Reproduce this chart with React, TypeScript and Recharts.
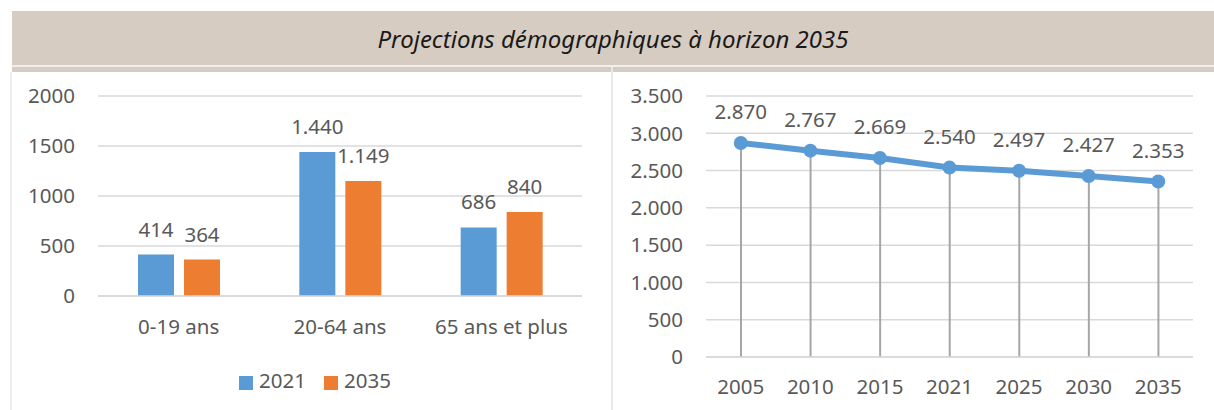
import {
  BarChart,
  Bar,
  ComposedChart,
  Line,
  XAxis,
  YAxis,
  CartesianGrid,
  Legend,
  LabelList,
} from "recharts";

const AGE_GROUPS = ["0-19 ans", "20-64 ans", "65 ans et plus"];
const POP_2021 = [414, 1440, 686];
const POP_2035 = [364, 1149, 840];
const BAR_TICKS = [0, 500, 1000, 1500, 2000];

const YEARS = ["2005", "2010", "2015", "2021", "2025", "2030", "2035"];
const TOTAL_POP = [2870, 2767, 2669, 2540, 2497, 2427, 2353];
const LINE_TICKS = [0, 500, 1000, 1500, 2000, 2500, 3000, 3500];

const BLUE = "#5B9BD5";
const ORANGE = "#ED7D31";
const TEXT = "#595959";
const GRID = "#D9D9D9";
const FONT = "'Noto Sans', sans-serif";
const FS = 20.5;

// 1440 -> "1.440"
const fmt = (v: number) => String(v).replace(/\B(?=(\d{3})+(?!\d))/g, ".");

const barData = AGE_GROUPS.map((g, i) => ({ group: g, y2021: POP_2021[i], y2035: POP_2035[i] }));
const lineData = YEARS.map((y, i) => ({ year: y, pop: TOTAL_POP[i] }));

const tickStyle = { fill: TEXT, fontSize: FS, fontFamily: FONT };
const labelStyle = { fill: TEXT, fontSize: FS, fontFamily: FONT };

function AgeChart() {
  return (
    <BarChart
      width={610}
      height={410}
      data={barData}
      margin={{ top: 96, right: 28, bottom: 84, left: 0 }}
      barSize={36}
      barGap={10}
    >
      <CartesianGrid vertical={false} stroke={GRID} strokeWidth={1.5} />
      <XAxis
        dataKey="group"
        tick={tickStyle}
        tickLine={false}
        axisLine={{ stroke: GRID, strokeWidth: 1.5 }}
        tickSize={6}
        tickMargin={17}
        height={30}
      />
      <YAxis
        domain={[0, 2000]}
        ticks={BAR_TICKS}
        tick={tickStyle}
        tickLine={false}
        axisLine={false}
        tickSize={6}
        tickMargin={17}
        width={98}
        interval={0}
      />
      <Legend
        layout="horizontal"
        verticalAlign="middle"
        align="center"
        iconType="square"
        iconSize={14}
        wrapperStyle={{ top: 366, left: 19, width: 610, fontFamily: FONT, fontSize: FS }}
        formatter={(value) => <span style={{ color: TEXT, marginLeft: 2, marginRight: 8 }}>{value}</span>}
      />
      <Bar dataKey="y2021" name="2021" fill={BLUE} isAnimationActive={false}>
        <LabelList dataKey="y2021" position="top" offset={18} formatter={(v: any) => fmt(Number(v))} style={labelStyle} />
      </Bar>
      <Bar dataKey="y2035" name="2035" fill={ORANGE} isAnimationActive={false}>
        <LabelList dataKey="y2035" position="top" offset={18} formatter={(v: any) => fmt(Number(v))} style={labelStyle} />
      </Bar>
    </BarChart>
  );
}

function TrendChart() {
  return (
    <ComposedChart
      width={614}
      height={410}
      data={lineData}
      margin={{ top: 96, right: 21, bottom: 23, left: 0 }}
      barSize={2}
    >
      <CartesianGrid vertical={false} stroke={GRID} strokeWidth={1.5} />
      <XAxis
        dataKey="year"
        tick={tickStyle}
        tickLine={false}
        axisLine={{ stroke: GRID, strokeWidth: 1.5 }}
        tickSize={6}
        tickMargin={16}
        height={30}
        interval={0}
      />
      <YAxis
        domain={[0, 3500]}
        ticks={LINE_TICKS}
        tickFormatter={fmt}
        tick={tickStyle}
        tickLine={false}
        axisLine={false}
        tickSize={6}
        tickMargin={17}
        width={106}
        interval={0}
      />
      {/* drop lines from each point to the axis */}
      <Bar dataKey="pop" fill="#A6A6A6" isAnimationActive={false} />
      <Line
        dataKey="pop"
        stroke={BLUE}
        strokeWidth={6}
        dot={{ r: 7, fill: BLUE, stroke: BLUE, strokeWidth: 0 }}
        isAnimationActive={false}
      >
        <LabelList dataKey="pop" position="top" offset={24} formatter={(v: any) => fmt(Number(v))} style={labelStyle} />
      </Line>
    </ComposedChart>
  );
}

export default function App() {
  return (
    <div style={{ position: "fixed", left: 0, top: 0, width: 1214, height: 410, background: "#fff", fontFamily: FONT }}>
      <div
        style={{
          position: "absolute",
          left: 12,
          top: 11,
          width: 1202,
          height: 54,
          background: "#D6CCC2",
          display: "flex",
          alignItems: "center",
          justifyContent: "center",
          fontStyle: "italic",
          fontSize: 24,
          color: "#1a1a1a",
        }}
      >
        Projections démographiques à horizon 2035
      </div>
      <div style={{ position: "absolute", left: 12, top: 65, width: 1202, height: 2, background: "#EFEFEF" }} />
      <div style={{ position: "absolute", left: 12, top: 67, width: 1202, height: 5, background: "#D6CCC2" }} />
      <div style={{ position: "absolute", left: 10, top: 72, width: 2, height: 338, background: "#EEEEEE" }} />
      <div style={{ position: "absolute", left: 611, top: 67, width: 2, height: 343, background: "#E8E8E8" }} />
      <div style={{ position: "absolute", left: 0, top: 0 }}>
        <AgeChart />
      </div>
      <div style={{ position: "absolute", left: 600, top: 0 }}>
        <TrendChart />
      </div>
    </div>
  );
}
